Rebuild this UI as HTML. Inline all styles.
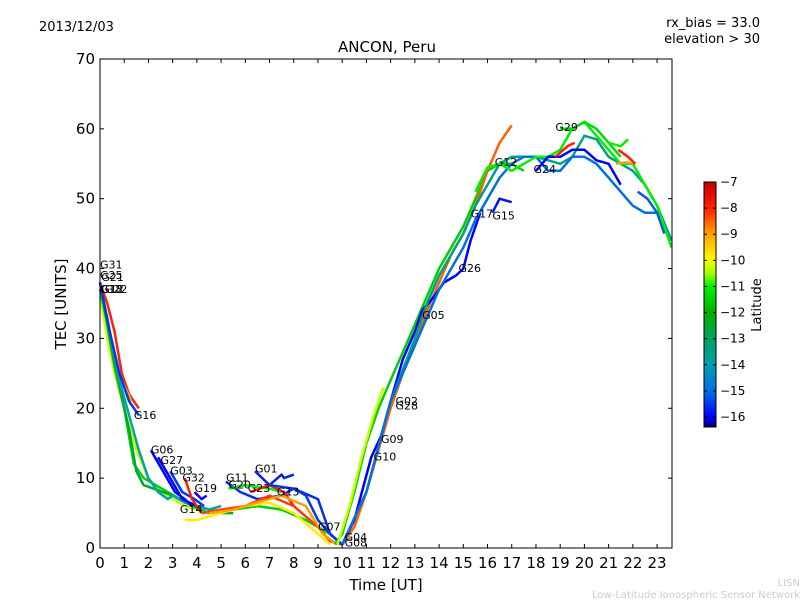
<!DOCTYPE html>
<html><head><meta charset="utf-8"><style>
body{margin:0;background:#fff;}
svg{display:block;font-family:"DejaVu Sans","Liberation Sans",sans-serif;}
</style></head><body>
<svg id="chart" width="800" height="600" viewBox="0 0 800 600">
<rect width="800" height="600" fill="#fff"/>
<text x="39" y="31" font-size="13">2013/12/03</text>
<text x="760" y="27" font-size="13" text-anchor="end">rx_bias = 33.0</text>
<text x="760" y="43" font-size="13" text-anchor="end">elevation &gt; 30</text>
<text x="387" y="52" font-size="15" text-anchor="middle">ANCON, Peru</text>
<text x="386" y="590" font-size="15" text-anchor="middle">Time [UT]</text>
<text transform="translate(66,304) rotate(-90)" font-size="15" text-anchor="middle">TEC [UNITS]</text>
<text x="800" y="586" font-size="10" fill="#ccc" text-anchor="end">LISN</text>
<text x="800" y="598" font-size="10" fill="#ccc" text-anchor="end">Low-Latitude Ionospheric Sensor Network</text>
<g id="series"></g>
<g id="labels"></g>
<rect x="100" y="59" width="572" height="489" fill="none" stroke="#000" stroke-width="1"/>
<g id="axes"></g>
<defs><linearGradient id="cmap" x1="0" y1="1" x2="0" y2="0"></linearGradient></defs>
<g id="cbar"></g>
<text transform="translate(761,305) rotate(-90)" font-size="13" text-anchor="middle">Latitude</text>
</svg>
<script>
const xTicks=[0,1,2,3,4,5,6,7,8,9,10,11,12,13,14,15,16,17,18,19,20,21,22,23];
const yTicks=[0,10,20,30,40,50,60,70];
const cbTicks=[-7,-8,-9,-10,-11,-12,-13,-14,-15,-16];
const latMin=-16.38, latMax=-7;
const cmapLat=[-16.38,-16,-15,-14,-13,-12,-11,-10.5,-10,-9,-8,-7];
const cmapCol=[[0,0,127],[0,0,255],[0,112,224],[0,160,176],[0,160,96],[0,176,0],[0,240,0],[160,255,0],[255,255,0],[255,160,0],[255,32,0],[192,0,0]];
const seriesLat=[-8,-9,-10.3,-11.5,-12.5,-14,-15.5,-16,-16,-15.5,-8,-16,-9.8,-15.6,-15.7,-11,-8,-8.2,-9,-15.5,-11.5,-8.5,-10.3,-16,-16,-13.5,-15,-11,-11.3,-16,-15.8,-8,-11,-9,-15.2,-8];
const seriesT=[
[0,0.3,0.6,0.9,1.2,1.6],
[0,0.3,0.6,0.9,1.3],
[0,0.3,0.6,1,1.5,2,2.5,3,3.5,4],
[0,0.3,0.6,1,1.4,1.8,2.3,2.8,3.3,3.8,4.5,5.5,6.5,7.5,8.5,9.5,10],
[0,0.4,0.8,1.2,1.5,1.8,2.2,2.6,3,3.5,4,4.5,5,5.5],
[0,0.4,0.8,1.2,1.6,2,2.4,2.8,3,3.5,4,4.5,5],
[0,0.4,0.8,1.2,1.6],
[2.1,2.6,3.1,3.5,3.8],
[2.4,2.9,3.4,4],
[2.9,3.4,3.9,4.3],
[3.5,3.8,4.2],
[3.9,4.2,4.4],
[3.5,4,5,6,7,8,9,9.5],
[5.2,5.8,6.5,7.5,8,9,9.5,10],
[6.4,7,7.5,7.6,8],
[5.3,6,7,7.5],
[6.2,7,7.6,8],
[4.2,5,6,7,8,9,9.5,10],
[4.5,5.5,6.5,7.5,8.5,9.2,9.8],
[7,8,8.5,9,9.5,10],
[9.7,10,10.5,11,11.5,12,12.5,13,13.5,14,14.5,15,15.5,16,16.5,17,17.5],
[10,10.5,11,11.5,12,12.5,13,13.5,14,14.5,15,15.5,16,16.5,17],
[9.8,10.3,10.8,11.3,11.7],
[10,10.5,11.2,11.6,12,12.5,13,13.3],
[13.3,13.8,14.2,14.7,15,15.3,15.7],
[10,11,12,13,13.5,14,14.5,15,15.5,16,16.5,17,17.5,18,18.5,19,19.5,20,20.5,21,21.5,22,22.5,23,23.6],
[10,11,12,13,14,15,15.5,16,16.5,17,17.5,18,18.5,19,19.5,20,20.5,21,21.5,22,22.5,23],
[15.5,16,16.5,17,17.5,18,18.5,19,19.5,20,20.5,21,21.5,22,22.5,23,23.6],
[19,19.5,20,20.5,21,21.5],
[18,18.5,19,19.5,20,20.5,21,21.5],
[16.2,16.5,17],
[18.8,19.3,19.6],
[21,21.5,21.8],
[21.3,21.7,22],
[22.2,22.6,23,23.3],
[21.4,21.8,22.1]];
const seriesV=[
[38,35,31,25,22,20],
[37,33,27,24,21],
[36,30,25,20,14,10,8,7,6,5.5],
[37,32,26,20,12,10,9,8,7,6,5,5.5,6,5.5,4,2,0.5],
[38,30,23,17,11,9,8.5,8,7.5,6.5,6,5.5,5,5],
[38,31,24,19,14,10,8,7,7.5,6.5,6,5.5,6],
[38,31,25,21,19],
[14,11,8,7,6],
[13,10,7,6],
[11,8,7,6],
[10,7,5],
[8,7,7.5],
[4,4,5,6,6.5,5,2,0.5],
[9.5,8,7,7.5,8.5,7,2,0.5],
[11,9,10.5,10,10.5],
[8.5,9,8.5,8],
[8,9,8,6],
[5,5.5,6,7.5,6,3,1,0.5],
[5,5.5,6.5,7.5,6,2,0.5],
[9,8.5,7.5,4,2,0.5],
[0.5,2,8,15,20,24,28,32,36,40,43,46,50,54,55,55,54],
[0.5,3,8,14,20,25,29,34,38,42,45,49,54,58,60.5],
[0.5,6,13,19,23],
[0.5,4,13,16,21,27,31,34],
[34,36,38,39,40,44,48],
[0.5,8,21,30,35,39,42,45,49,52,55,56,56,56,55.5,55,56,59,58.5,56,55,54,52,49,44],
[0.5,8,21,29,37,43,47,50,53,55,56,56,54,54,56,56,55,53,51,49,48,48],
[51,54.5,55,54,55,56,56,57,60,61,59,57,55,55,52,49,43],
[60,60,61,60,58,56],
[54,56,56,57,57,55.5,55,52],
[48,50,49.5],
[56,57.5,58],
[58,57.5,58.5],
[55,55.2,55],
[51,50,48,45],
[57,56,55]];
const labelText=["G31","G25","G21","G18","G12","G22","G16","G06","G27","G03","G32","G19","G14","G11","G01","G20","G23","G13","G07","G04","G08","G10","G09","G02","G28","G05","G26","G17","G15","G12","G24","G29"];
const labelT=[0,0,0.05,0,0.05,0.2,1.4,2.1,2.5,2.9,3.4,3.9,3.3,5.2,6.4,5.3,6.1,7.3,9,10.1,10.1,11.3,11.6,12.2,12.2,13.3,14.8,15.3,16.2,16.3,17.9,18.8];
const labelV=[40,38.5,38.2,36.5,36.5,36.5,18.5,13.5,12,10.5,9.5,8,5,9.5,10.8,8.5,8,7.5,2.5,1,0.2,12.5,15,20.5,19.8,32.8,39.5,47.3,47,54.7,53.7,59.7];
const X=t=>100+t*24.22, Y=v=>548-v*6.986;
function cmap(lat){
 lat=Math.max(latMin,Math.min(latMax,lat));
 for(let i=0;i<cmapLat.length-1;i++){
  if(lat<=cmapLat[i+1]){const f=(lat-cmapLat[i])/(cmapLat[i+1]-cmapLat[i]);
   const c=cmapCol[i].map((a,k)=>Math.round(a+(cmapCol[i+1][k]-a)*f));return `rgb(${c[0]},${c[1]},${c[2]})`;}
 }
 const c=cmapCol[cmapCol.length-1];return `rgb(${c[0]},${c[1]},${c[2]})`;
}
const NS="http://www.w3.org/2000/svg";
const grad=document.getElementById('cmap');
cmapLat.forEach(l=>{const s=document.createElementNS(NS,'stop');s.setAttribute('offset',((l-latMin)/(latMax-latMin)).toFixed(4));s.setAttribute('stop-color',cmap(l));grad.appendChild(s);});
const sg=document.getElementById('series');
seriesT.forEach((ts,i)=>{
 const p=document.createElementNS(NS,'polyline');
 p.setAttribute('points',ts.map((t,j)=>X(t).toFixed(1)+','+Y(seriesV[i][j]).toFixed(1)).join(' '));
 p.setAttribute('fill','none');
 p.setAttribute('stroke',cmap(seriesLat[i]));
 p.setAttribute('stroke-width','2.5');
 p.setAttribute('stroke-linejoin','round');
 
 
 sg.appendChild(p);
});
const lg=document.getElementById('labels');
labelText.forEach((s,i)=>{
 const t=document.createElementNS(NS,'text');
 t.setAttribute('x',X(labelT[i]));t.setAttribute('y',Y(labelV[i]));
 t.setAttribute('font-size','11');t.textContent=s;
 
 
 lg.appendChild(t);
});
const ax=document.getElementById('axes');
function line(x1,y1,x2,y2,g){const l=document.createElementNS(NS,'line');l.setAttribute('x1',x1);l.setAttribute('y1',y1);l.setAttribute('x2',x2);l.setAttribute('y2',y2);l.setAttribute('stroke','#000');l.setAttribute('stroke-width','1');g.appendChild(l);return l;}
function txt(x,y,s,anchor,size,g){const t=document.createElementNS(NS,'text');t.setAttribute('x',x);t.setAttribute('y',y);t.setAttribute('text-anchor',anchor);t.setAttribute('font-size',size);t.textContent=s;g.appendChild(t);return t;}
xTicks.forEach(t=>{const x=X(t);
 const a=line(x,548,x,544,ax);
 const b=line(x,59,x,63,ax);
 const l=txt(x,568,String(t),'middle',15,ax);});
yTicks.forEach(v=>{const y=Y(v);
 const a=line(100,y,104,y,ax);
 const b=line(672,y,668,y,ax);
 const l=txt(95,y+5,String(v),'end',15,ax);});
const cb=document.getElementById('cbar');
const CY=v=>427-(v-latMin)/(latMax-latMin)*245;
const r=document.createElementNS(NS,'rect');
r.setAttribute('x',704);r.setAttribute('y',182);r.setAttribute('width',12);r.setAttribute('height',245);
r.setAttribute('fill','url(#cmap)');r.setAttribute('stroke','#000');


cb.appendChild(r);
cbTicks.forEach(v=>{const y=CY(v);
 const a=line(704,y,707,y,cb);
 const b=line(716,y,713,y,cb);
 const l=txt(720,y+4,String(v).replace('-','\u2212'),'start',12,cb);});
</script>
</body></html>
